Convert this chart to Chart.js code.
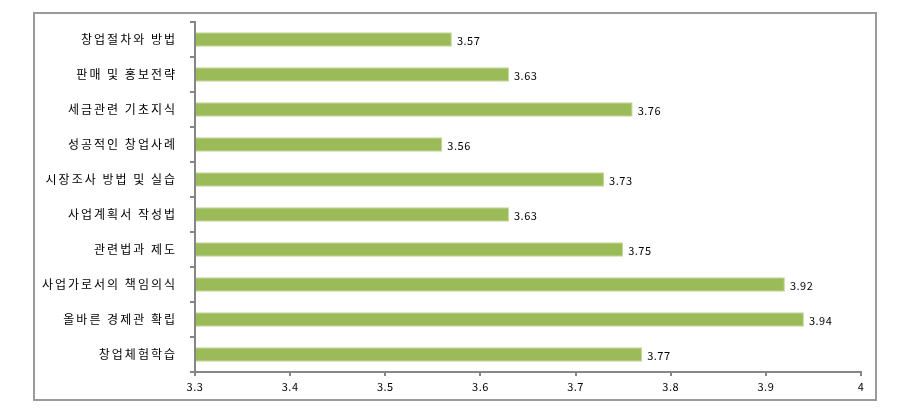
<!DOCTYPE html>
<html>
<head>
<meta charset="utf-8">
<script src="https://cdn.jsdelivr.net/npm/chart.js@4"></script>
<style>
  html, body { margin: 0; padding: 0; background: #fff; }
  #wrap { width: 912px; height: 410px; }
</style>
</head>
<body>
<div id="wrap"><canvas id="c" width="912" height="410"></canvas></div>
<script>
// --- DATA ---
const categories = ['창업절차와 방법', '판매 및 홍보전략', '세금관련 기초지식', '성공적인 창업사례', '시장조사 방법 및 실습', '사업계획서 작성법', '관련법과 제도', '사업가로서의 책임의식', '올바른 경제관 확립', '창업체험학습'];
const scores = [3.57, 3.63, 3.76, 3.56, 3.73, 3.63, 3.75, 3.92, 3.94, 3.77];
const xMin = 3.3, xMax = 4, xStep = 0.1;

const axisColor = '#868686';
const font = '"Noto Sans CJK KR", "Noto Sans", sans-serif';

// outer frame round the chart
const framePlugin = {
    id: 'frame',
    beforeDraw(chart) {
        const ctx = chart.ctx;
        ctx.save();
        ctx.strokeStyle = '#9a9a9a';
        ctx.lineWidth = 2;
        ctx.strokeRect(34, 13, 842, 387);
        ctx.restore();
    }
};

// value labels at bar ends
const valueLabels = {
    id: 'valueLabels',
    afterDatasetsDraw(chart) {
        const ctx = chart.ctx;
        const meta = chart.getDatasetMeta(0);
        ctx.save();
        ctx.font = '11px ' + font;
        ctx.letterSpacing = '0.5px';
        ctx.fillStyle = '#000';
        ctx.textBaseline = 'middle';
        meta.data.forEach((bar, i) => {
            ctx.fillText(scores[i].toFixed(2), bar.x + 5, bar.y + 1);
        });
        ctx.restore();
    }
};

// category labels are drawn a little spread out, like the original
function spacedLabels(scale, spacing) {
    if (scale._spaced) return;
    scale._spaced = true;
    const orig = scale.drawLabels.bind(scale);
    scale.drawLabels = (area) => {
        const ctx = scale.ctx;
        ctx.save();
        ctx.letterSpacing = spacing;
        orig(area);
        ctx.restore();
    };
}

new Chart(document.getElementById('c'), {
    type: 'bar',
    data: {
        labels: categories,
        datasets: [{
            data: scores,
            backgroundColor: '#9BBB59',
            borderColor: '#C3D69B',
            borderWidth: { top: 1, bottom: 1, right: 1, left: 0 },
            barPercentage: 0.42,
            categoryPercentage: 1.0,
            base: xMin
        }]
    },
    options: {
        indexAxis: 'y',
        responsive: false,
        animation: false,
        layout: { padding: { left: 0, right: 51, top: 22, bottom: 0 } },
        plugins: { legend: { display: false }, tooltip: { enabled: false } },
        scales: {
            x: {
                min: xMin, max: xMax,
                ticks: {
                    stepSize: xStep,
                    color: '#000',
                    font: { family: font, size: 11 },
                    padding: 4,
                    callback: (v) => String(Number(v.toFixed(1)))
                },
                grid: { drawOnChartArea: false, color: axisColor, tickLength: 4, lineWidth: 2 },
                border: { color: axisColor, width: 2 },
                afterFit: (s) => { s.height = 38; spacedLabels(s, '0.5px'); }
            },
            y: {
                ticks: { color: '#000', font: { family: font, size: 12 }, padding: 13 },
                grid: { drawOnChartArea: false, color: axisColor, tickLength: 5, lineWidth: 2, offset: true },
                border: { color: axisColor, width: 2 },
                afterFit: (s) => { s.width = 195; spacedLabels(s, '2px'); }
            }
        }
    },
    plugins: [framePlugin, valueLabels]
});
</script>
</body>
</html>
